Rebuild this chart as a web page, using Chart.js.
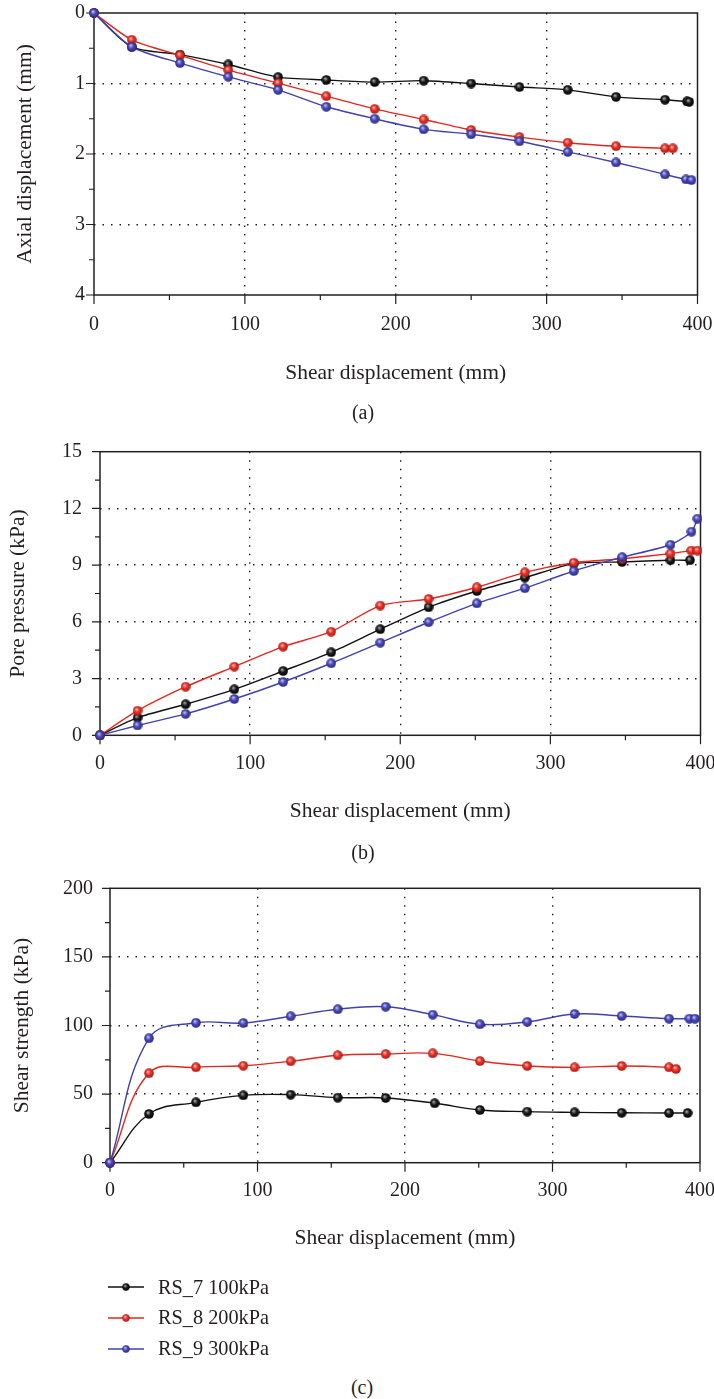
<!DOCTYPE html>
<html>
<head>
<meta charset="utf-8">
<script src="https://cdn.jsdelivr.net/npm/chart.js@4.4.1/dist/chart.umd.min.js"></script>
<style>
  html, body { margin: 0; padding: 0; background: #fff; }
  body { width: 714px; height: 1399px; position: relative; overflow: hidden; font-family: "Liberation Serif", serif; color: #231f20; }
  canvas.chart { position: absolute; left: 0; }
  .cap { position: absolute; font-size: 20px; line-height: 24px; transform: translate(-50%, -50%); white-space: nowrap; }
  .legend { position: absolute; left: 108px; top: 1271.8px; font-size: 20.3px; }
  .legend div { height: 30.8px; display: flex; align-items: center; }
  .legend canvas { margin-right: 14px; }
</style>
</head>
<body>
<canvas id="chartA" class="chart" width="714" height="390" style="top:0px"></canvas>
<canvas id="chartB" class="chart" width="714" height="410" style="top:420px"></canvas>
<canvas id="chartC" class="chart" width="714" height="400" style="top:860px"></canvas>
<div class="cap" style="left:363px; top:412px">(a)</div>
<div class="cap" style="left:363px; top:851.7px">(b)</div>
<div class="cap" style="left:362px; top:1386.7px">(c)</div>
<div class="legend" id="legend"></div>

<script>
// series names
var seriesNames = ["RS_7 100kPa", "RS_8 200kPa", "RS_9 300kPa"];

// (a) axial displacement (mm) vs shear displacement (mm)
var shearA7 = [0, 25, 57, 89, 122, 154, 186, 218.5, 250, 282, 314, 346, 378.5, 393, 394.5];
var axialA7 = [0, 0.48, 0.59, 0.73, 0.91, 0.95, 0.98, 0.96, 1.00, 1.05, 1.09, 1.19, 1.23, 1.255, 1.26];
var shearA8 = [0, 25, 57, 89, 122, 154, 186, 218.5, 250, 282, 314, 346, 378.5, 383.6];
var axialA8 = [0, 0.38, 0.60, 0.81, 0.995, 1.18, 1.36, 1.51, 1.66, 1.76, 1.84, 1.89, 1.92, 1.92];
var shearA9 = [0, 25, 57, 89, 122, 154, 186, 218.5, 250, 282, 314, 346, 378.5, 392.4, 396];
var axialA9 = [0, 0.48, 0.71, 0.905, 1.09, 1.33, 1.50, 1.65, 1.72, 1.82, 1.97, 2.12, 2.29, 2.36, 2.37];

// (b) pore pressure (kPa)
var shearB7 = [0, 25, 57, 89.5, 122, 154, 186.7, 218.9, 251, 283, 315.6, 347.8, 380, 393];
var poreB7 = [0, 0.93, 1.64, 2.43, 3.40, 4.39, 5.61, 6.77, 7.63, 8.34, 9.08, 9.17, 9.26, 9.26];
var shearB8 = [0, 25, 57, 89.5, 122, 154, 186.7, 218.9, 251, 283, 315.6, 347.8, 380, 393.8, 398];
var poreB8 = [0, 1.30, 2.57, 3.63, 4.69, 5.48, 6.86, 7.21, 7.83, 8.62, 9.13, 9.34, 9.61, 9.77, 9.77];
var shearB9 = [0, 25, 57, 89.5, 122, 154, 186.7, 218.9, 251, 283, 315.6, 347.8, 380, 394, 398];
var poreB9 = [0, 0.52, 1.13, 1.92, 2.82, 3.81, 4.90, 5.98, 6.98, 7.78, 8.69, 9.42, 10.08, 10.77, 11.46];

// (c) shear strength (kPa)
var shearC7 = [0, 26.4, 58.3, 90.4, 122.5, 154.4, 186.9, 220.1, 250.8, 282.9, 315, 346.9, 379, 391.6];
var strengthC7 = [0, 35.5, 44.0, 49.1, 49.6, 47.4, 47.2, 43.3, 38.4, 37.2, 36.7, 36.4, 36.2, 36.2];
var shearC8 = [0, 26.4, 58.3, 90.4, 122.5, 154.4, 186.9, 218.8, 250.8, 282.9, 315, 346.9, 379, 383.7];
var strengthC8 = [0, 65.2, 69.5, 70.7, 73.9, 78.3, 79.2, 79.7, 74.1, 70.5, 69.5, 70.5, 69.5, 68.3];
var shearC9 = [0, 26.4, 58.3, 90.4, 122.5, 154.4, 186.9, 218.8, 250.8, 282.9, 315, 346.9, 379, 392.8, 396.6];
var strengthC9 = [0, 90.7, 102.0, 101.8, 106.7, 111.8, 113.7, 107.9, 100.9, 102.6, 108.4, 106.9, 105, 105, 105];

// tick labels
var xTickLabels = ["0", "100", "200", "300", "400"];

var ink = "#231f20";
var lineColors = ["#111111", "#e3261e", "#4141ad"];
var ballColors = [
  ["#a8a8a8", "#1c1c1c", "#000000"],
  ["#ffb8b0", "#e8332a", "#a81810"],
  ["#c0c0f4", "#4c4cba", "#262680"]
];

function ball(c) {
  var cv = document.createElement("canvas");
  cv.width = cv.height = 10;
  var g = cv.getContext("2d");
  var grd = g.createRadialGradient(3.8, 3.4, 0.3, 5, 5, 5);
  grd.addColorStop(0, c[0]);
  grd.addColorStop(0.45, c[1]);
  grd.addColorStop(1, c[2]);
  g.fillStyle = grd;
  g.beginPath();
  g.arc(5, 5, 4.8, 0, Math.PI * 2);
  g.fill();
  return cv;
}
var balls = ballColors.map(ball);

function pts(xs, ys) {
  return xs.map(function (x, i) { return { x: x, y: ys[i] }; });
}

function isMajor(v, step) {
  var r = v / step;
  return Math.abs(r - Math.round(r)) < 1e-6;
}

// box + major/minor tick marks
var frame = {
  id: "frame",
  beforeDatasetsDraw: function (chart, args, o) {
    var ctx = chart.ctx, a = chart.chartArea, x = chart.scales.x, y = chart.scales.y;
    ctx.save();
    ctx.strokeStyle = ink;
    ctx.lineWidth = 1.2;
    ctx.beginPath();
    x.ticks.forEach(function (t) {
      var px = x.getPixelForValue(t.value);
      ctx.moveTo(px, a.bottom);
      ctx.lineTo(px, a.bottom + (isMajor(t.value, o.xMajor) ? 9 : 5));
    });
    y.ticks.forEach(function (t) {
      var py = y.getPixelForValue(t.value);
      ctx.moveTo(a.left, py);
      ctx.lineTo(a.left - (isMajor(t.value, o.yMajor) ? 8 : 5), py);
    });
    ctx.stroke();
    ctx.lineWidth = 1.5;
    ctx.strokeRect(a.left, a.top, a.right - a.left, a.bottom - a.top);
    ctx.restore();
  }
};

function makeChart(id, sets, L) {
  var datasets = sets.map(function (s, i) {
    return {
      label: seriesNames[i],
      data: s,
      borderColor: lineColors[i],
      borderWidth: 1.4,
      pointStyle: balls[i],
      pointRadius: 5,
      tension: L.tension,
      fill: false,
      clip: false,
      order: 2 - i
    };
  });
  var gridColor = function (step, min, max) {
    return function (c) {
      var v = c.tick ? c.tick.value : 0;
      if (!isMajor(v, step) || Math.abs(v - min) < 1e-6 || Math.abs(v - max) < 1e-6) return "rgba(0,0,0,0)";
      return ink;
    };
  };
  return new Chart(document.getElementById(id).getContext("2d"), {
    type: "line",
    data: { datasets: datasets },
    options: {
      responsive: false,
      animation: false,
      devicePixelRatio: 1,
      layout: { padding: { top: L.padTop, right: L.padRight, left: 0, bottom: 0 } },
      plugins: {
        legend: { display: false },
        tooltip: { enabled: false },
        frame: { xMajor: 100, yMajor: L.yMajor }
      },
      scales: {
        x: {
          type: "linear", min: 0, max: 400,
          afterFit: function (s) { s.height = L.xH; s.paddingLeft = 0; s.paddingRight = 0; },
          border: { display: false, dash: [1.5, 7] },
          grid: { drawTicks: false, lineWidth: 1.4, color: gridColor(100, 0, 400) },
          ticks: {
            stepSize: 50, autoSkip: false, maxRotation: 0, padding: L.xTickPad,
            color: ink, font: { family: "Liberation Serif", size: 20 },
            callback: function (v) { return isMajor(v, 100) ? xTickLabels[Math.round(v / 100)] : ""; }
          },
          title: {
            display: true, text: "Shear displacement (mm)", color: ink,
            font: { family: "Liberation Serif", size: 21.5 }, padding: { top: 0, bottom: L.xTitlePad }
          }
        },
        y: {
          type: "linear", min: L.yMin, max: L.yMax, reverse: L.reverse,
          afterFit: function (s) { s.width = L.yW; s.paddingTop = 0; s.paddingBottom = 0; },
          border: { display: false, dash: [1.5, 7] },
          grid: { drawTicks: false, lineWidth: 1.4, color: gridColor(L.yMajor, L.yMin, L.yMax) },
          ticks: {
            stepSize: L.yStep, autoSkip: false, padding: L.yTickPad,
            color: ink, font: { family: "Liberation Serif", size: 20 },
            callback: function (v) { return isMajor(v, L.yMajor) ? String(Math.round(v)) : ""; }
          },
          title: {
            display: true, text: L.yTitle, color: ink,
            font: { family: "Liberation Serif", size: 21.5 }, padding: { top: L.yTitlePad, bottom: 0 }
          }
        }
      }
    },
    plugins: [frame]
  });
}

makeChart("chartA", [pts(shearA7, axialA7), pts(shearA8, axialA8), pts(shearA9, axialA9)], {
  padTop: 13, padRight: 16.5, yW: 94, xH: 95, yTitlePad: 12, yTickPad: 9, xTickPad: 18, xTitlePad: 4,
  yMin: 0, yMax: 4, yStep: 0.5, yMajor: 1, reverse: true, tension: 0.25, yTitle: "Axial displacement (mm)"
});
makeChart("chartB", [pts(shearB7, poreB7), pts(shearB8, poreB8), pts(shearB9, poreB9)], {
  padTop: 31.7, padRight: 13.5, yW: 100, xH: 94.7, yTitlePad: 5, yTickPad: 18, xTickPad: 16, xTitlePad: 5.4,
  yMin: 0, yMax: 15, yStep: 1.5, yMajor: 3, reverse: false, tension: 0.25, yTitle: "Pore pressure (kPa)"
});
makeChart("chartC", [pts(shearC7, strengthC7), pts(shearC8, strengthC8), pts(shearC9, strengthC9)], {
  padTop: 28.3, padRight: 14, yW: 110, xH: 97.3, yTitlePad: 9, yTickPad: 17, xTickPad: 16.5, xTitlePad: 8.8,
  yMin: 0, yMax: 200, yStep: 25, yMajor: 50, reverse: false, tension: 0.4, yTitle: "Shear strength (kPa)"
});

// legend
var legend = document.getElementById("legend");
seriesNames.forEach(function (name, i) {
  var row = document.createElement("div");
  var icon = document.createElement("canvas");
  icon.width = 36; icon.height = 12;
  var g = icon.getContext("2d");
  g.strokeStyle = lineColors[i];
  g.lineWidth = 1.4;
  g.beginPath(); g.moveTo(0, 6); g.lineTo(36, 6); g.stroke();
  g.drawImage(balls[i], 14, 2, 8, 8);
  row.appendChild(icon);
  var span = document.createElement("span");
  span.textContent = name;
  row.appendChild(span);
  legend.appendChild(row);
});
</script>
</body>
</html>
